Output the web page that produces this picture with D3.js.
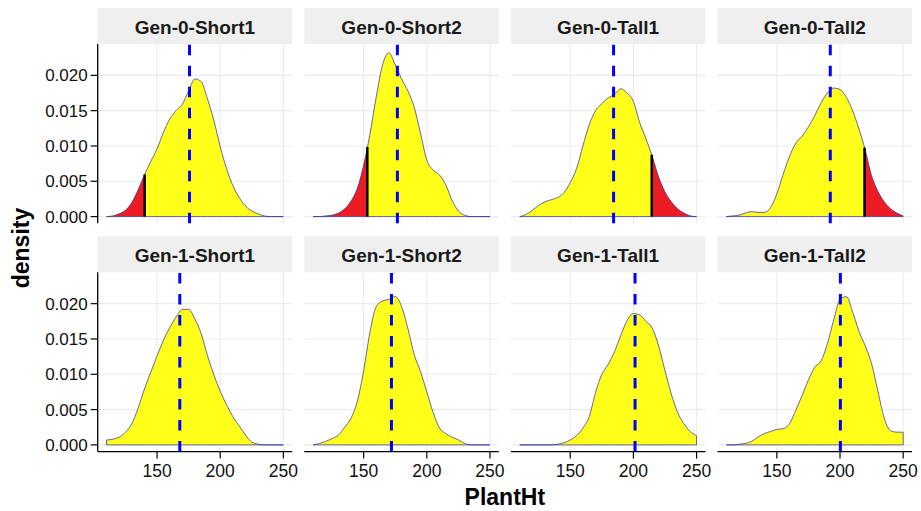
<!DOCTYPE html>
<html>
<head>
<meta charset="utf-8">
<script src="https://cdn.jsdelivr.net/npm/d3@7"></script>
<style>
  body { margin: 0; background: #fff; }
  text { font-family: 'Liberation Sans', Arial, sans-serif; }
</style>
</head>
<body>
<script>
// facet names, in reading order
const panels = ['Gen-0-Short1', 'Gen-0-Short2', 'Gen-0-Tall1', 'Gen-0-Tall2',
                'Gen-1-Short1', 'Gen-1-Short2', 'Gen-1-Tall1', 'Gen-1-Tall2'];

// PlantHt grid the densities were read at
const plantHt = [110, 115, 120, 125, 130, 135, 140, 145, 150, 155, 160, 165, 170, 175, 180,
                 185, 190, 195, 200, 205, 210, 215, 220, 225, 230, 235, 240, 245, 250];

// density values
const densG0S1 = [0.0000, 0.0001, 0.0004, 0.0009, 0.0020, 0.0038, 0.0059, 0.0078, 0.0096, 0.0119,
                  0.0138, 0.0150, 0.0159, 0.0178, 0.0195, 0.0191, 0.0166, 0.0136, 0.0099, 0.0068,
                  0.0044, 0.0027, 0.0015, 0.0008, 0.0004, 0.0001, 0.0000, 0.0000, 0.0000];
const densG0S2 = [0.0000, 0.0000, 0.0001, 0.0002, 0.0005, 0.0011, 0.0022, 0.0040, 0.0073, 0.0117,
                  0.0170, 0.0215, 0.0232, 0.0215, 0.0195, 0.0178, 0.0155, 0.0118, 0.0080, 0.0066,
                  0.0059, 0.0045, 0.0023, 0.0008, 0.0002, 0.0000, 0.0000, 0.0000, 0.0000];
const densG0T1 = [0.0000, 0.0003, 0.0009, 0.0016, 0.0021, 0.0024, 0.0027, 0.0034, 0.0048, 0.0068,
                  0.0100, 0.0130, 0.0150, 0.0160, 0.0168, 0.0173, 0.0181, 0.0175, 0.0163, 0.0133,
                  0.0110, 0.0085, 0.0056, 0.0035, 0.0021, 0.0011, 0.0005, 0.0001, 0.0000];
const densG0T2 = [0.0000, 0.0001, 0.0002, 0.0005, 0.0007, 0.0006, 0.0006, 0.0013, 0.0032, 0.0060,
                  0.0085, 0.0104, 0.0114, 0.0127, 0.0143, 0.0161, 0.0175, 0.0182, 0.0180, 0.0169,
                  0.0150, 0.0124, 0.0094, 0.0058, 0.0036, 0.0021, 0.0011, 0.0005, 0.0001];
const densG1S1 = [0.0007, 0.0008, 0.0011, 0.0018, 0.0030, 0.0052, 0.0079, 0.0103, 0.0126, 0.0148,
                  0.0166, 0.0181, 0.0192, 0.0192, 0.0178, 0.0157, 0.0126, 0.0099, 0.0076, 0.0057,
                  0.0040, 0.0027, 0.0014, 0.0004, 0.0001, 0.0000, 0.0000, 0.0000, 0.0000];
const densG1S2 = [0.0000, 0.0002, 0.0005, 0.0009, 0.0014, 0.0025, 0.0038, 0.0062, 0.0105, 0.0160,
                  0.0196, 0.0204, 0.0206, 0.0210, 0.0196, 0.0165, 0.0128, 0.0104, 0.0075, 0.0046,
                  0.0024, 0.0016, 0.0011, 0.0007, 0.0002, 0.0000, 0.0000, 0.0000, 0.0000];
const densG1T1 = [0.0000, 0.0000, 0.0000, 0.0000, 0.0000, 0.0000, 0.0001, 0.0003, 0.0007, 0.0013,
                  0.0024, 0.0040, 0.0074, 0.0100, 0.0114, 0.0132, 0.0155, 0.0176, 0.0186, 0.0184,
                  0.0175, 0.0165, 0.0140, 0.0105, 0.0072, 0.0046, 0.0030, 0.0019, 0.0013];
const densG1T2 = [0.0000, 0.0000, 0.0001, 0.0002, 0.0005, 0.0011, 0.0016, 0.0019, 0.0022, 0.0023,
                  0.0030, 0.0049, 0.0070, 0.0092, 0.0110, 0.0119, 0.0143, 0.0177, 0.0206, 0.0210,
                  0.0188, 0.0161, 0.0140, 0.0115, 0.0076, 0.0038, 0.0020, 0.0018, 0.0018];
const densities = [densG0S1, densG0S2, densG0T1, densG0T2, densG1S1, densG1S2, densG1T1, densG1T2];

// mean (blue dashed) and selection cutoff (black line, red tail)
const meanHt = [175.7, 176.7, 184.3, 192.3, 168.0, 172.0, 201.3, 200.3];
const cutHt = [140.2, 152.9, 214.5, 219.4, null, null, null, null];
const tailSide = ['left', 'left', 'right', 'right', null, null, null, null];

const xTicks = [150, 200, 250];
const yTicks = [0, 0.005, 0.010, 0.015, 0.020];

const W = 921, H = 511;
const panelLeft = 97.7, panelW = 194.5, colStep = 206.6;
const rowTop = [44, 272.3], panelH = 179.3, stripH = 36;

const svg = d3.select('body').append('svg')
  .attr('width', W)
  .attr('height', H);

const x = d3.scaleLinear().domain([103, 257]).range([0, panelW]);
const y = d3.scaleLinear().domain([-0.00095, 0.02444]).range([panelH, 0]);

const area = d3.area()
  .x(d => x(d[0]))
  .y0(y(0))
  .y1(d => y(d[1]))
  .curve(d3.curveMonotoneX);

const densAt = (xs, ds, v) => {
  const i = d3.bisectLeft(xs, v);
  const t = (v - xs[i - 1]) / (xs[i] - xs[i - 1]);
  return ds[i - 1] + t * (ds[i] - ds[i - 1]);
};

panels.forEach((name, k) => {
  const row = Math.floor(k / 4), col = k % 4;
  const px = panelLeft + col * colStep;
  const py = rowTop[row];
  const pts = plantHt.map((v, i) => [v, densities[k][i]]);

  // strip
  svg.append('rect')
    .attr('x', px).attr('y', py - stripH)
    .attr('width', panelW).attr('height', stripH)
    .attr('fill', '#efefef');
  svg.append('text')
    .attr('x', px + panelW / 2)
    .attr('y', py - stripH + 26)
    .attr('text-anchor', 'middle')
    .attr('font-weight', 'bold')
    .attr('font-size', '19px')
    .attr('fill', '#1a1a1a')
    .text(name);

  const g = svg.append('g').attr('transform', `translate(${px},${py})`);

  // grid
  g.selectAll('.hgrid').data(yTicks).join('line')
    .attr('x1', 0).attr('x2', panelW)
    .attr('y1', d => y(d)).attr('y2', d => y(d))
    .attr('stroke', '#ebebeb').attr('stroke-width', 1.1);
  g.selectAll('.vgrid').data(xTicks).join('line')
    .attr('x1', d => x(d)).attr('x2', d => x(d))
    .attr('y1', 0).attr('y2', panelH)
    .attr('stroke', '#ebebeb').attr('stroke-width', 1.1);

  // density
  g.append('path')
    .attr('d', area(pts))
    .attr('fill', '#ffff1a');

  if (cutHt[k] !== null) {
    const clipId = 'clip' + k;
    const cx = x(cutHt[k]);
    g.append('clipPath').attr('id', clipId)
      .append('rect')
      .attr('x', tailSide[k] === 'left' ? 0 : cx)
      .attr('width', tailSide[k] === 'left' ? cx : panelW - cx)
      .attr('y', 0).attr('height', panelH);
    g.append('path')
      .attr('d', area(pts))
      .attr('fill', '#ed1c24')
      .attr('clip-path', `url(#${clipId})`);
  }

  g.append('path')
    .attr('d', area(pts))
    .attr('fill', 'none')
    .attr('stroke', '#3434a4')
    .attr('stroke-width', 0.75);

  if (cutHt[k] !== null) {
    g.append('line')
      .attr('x1', x(cutHt[k])).attr('x2', x(cutHt[k]))
      .attr('y1', y(0)).attr('y2', y(densAt(plantHt, densities[k], cutHt[k])))
      .attr('stroke', 'black').attr('stroke-width', 2.5);
  }

  // mean
  g.append('line')
    .attr('x1', x(meanHt[k])).attr('x2', x(meanHt[k]))
    .attr('y1', panelH).attr('y2', 0)
    .attr('stroke', 'blue')
    .attr('stroke-width', 3)
    .attr('stroke-dasharray', '10.5,10.5');

  // y axis on first column
  if (col === 0) {
    g.append('line')
      .attr('x1', 0).attr('x2', 0)
      .attr('y1', 0).attr('y2', panelH)
      .attr('stroke', 'black').attr('stroke-width', 1.3);
    g.selectAll('.ytick').data(yTicks).join('line')
      .attr('x1', -7).attr('x2', 0)
      .attr('y1', d => y(d)).attr('y2', d => y(d))
      .attr('stroke', 'black').attr('stroke-width', 1.2);
    g.selectAll('.ylab').data(yTicks).join('text')
      .attr('x', -10)
      .attr('y', d => y(d))
      .attr('dy', '0.36em')
      .attr('text-anchor', 'end')
      .attr('font-size', '17px')
      .attr('fill', '#111')
      .text(d3.format('.3f'));
  }

  // x axis on bottom row
  if (row === 1) {
    g.append('line')
      .attr('x1', 0).attr('x2', panelW)
      .attr('y1', panelH).attr('y2', panelH)
      .attr('stroke', 'black').attr('stroke-width', 1.3);
    g.selectAll('.xtick').data(xTicks).join('line')
      .attr('x1', d => x(d)).attr('x2', d => x(d))
      .attr('y1', panelH).attr('y2', panelH + 7)
      .attr('stroke', 'black').attr('stroke-width', 1.2);
    g.selectAll('.xlab').data(xTicks).join('text')
      .attr('x', d => x(d))
      .attr('y', panelH + 25.5)
      .attr('text-anchor', 'middle')
      .attr('font-size', '17.5px')
      .attr('fill', '#111')
      .text(d => d);
  }
});

// axis titles
svg.append('text')
  .attr('x', panelLeft + (3 * colStep + panelW) / 2)
  .attr('y', 505)
  .attr('text-anchor', 'middle')
  .attr('font-weight', 'bold')
  .attr('font-size', '23px')
  .text('PlantHt');

svg.append('text')
  .attr('transform', 'translate(29,248) rotate(-90)')
  .attr('text-anchor', 'middle')
  .attr('font-weight', 'bold')
  .attr('font-size', '23px')
  .text('density');
</script>
</body>
</html>
